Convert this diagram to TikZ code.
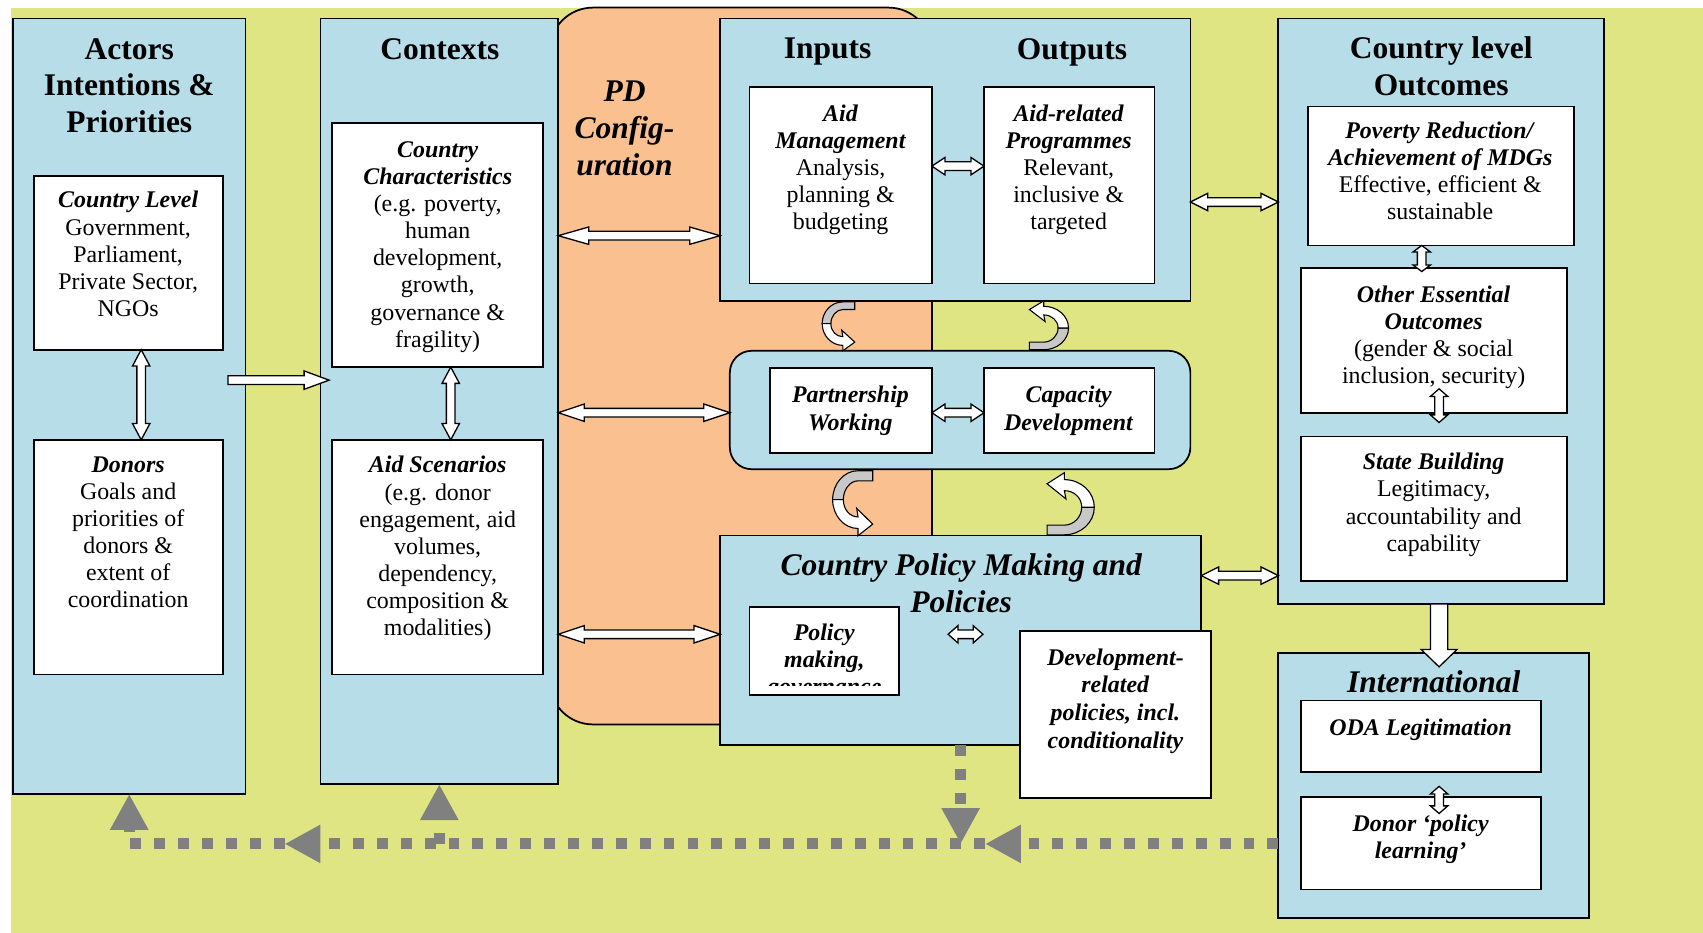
\documentclass[tikz,border=0pt]{standalone}
\usepackage{fontspec}
\setmainfont{Liberation Serif}
\usetikzlibrary{calc,arrows.meta}
\definecolor{bggreen}{RGB}{223,229,131}
\definecolor{lblue}{RGB}{183,221,232}
\definecolor{orng}{RGB}{250,192,144}
\definecolor{dgrey}{RGB}{128,128,128}
\definecolor{curlgrey}{RGB}{200,200,200}
\newcommand\BI[1]{\textbf{\textit{#1}}}
% horizontal double block arrow: [head length]{left point}{right point}
\newcommand\HDA[3][14]{\draw[blockarr] let \p1=(#2), \p2=(#3) in
  (\x1,\y1) -- (\x1+#1pt,\y1+8pt) -- (\x1+#1pt,\y1+4pt) -- (\x2-#1pt,\y1+4pt) -- (\x2-#1pt,\y1+8pt)
  -- (\x2,\y1) -- (\x2-#1pt,\y1-8pt) -- (\x2-#1pt,\y1-4pt) -- (\x1+#1pt,\y1-4pt) -- (\x1+#1pt,\y1-8pt) -- cycle;}
% vertical double block arrow: [head length]{upper point}{lower point}
\newcommand\VDA[3][14]{\draw[blockarr] let \p1=(#2), \p2=(#3) in
  (\x1,\y1) -- (\x1+8pt,\y1-#1pt) -- (\x1+4pt,\y1-#1pt) -- (\x1+4pt,\y2+#1pt) -- (\x1+8pt,\y2+#1pt)
  -- (\x1,\y2) -- (\x1-8pt,\y2+#1pt) -- (\x1-4pt,\y2+#1pt) -- (\x1-4pt,\y1-#1pt) -- (\x1-8pt,\y1-#1pt) -- cycle;}
% single right block arrow
\newcommand\RA[2]{\draw[blockarr] let \p1=(#1), \p2=(#2) in
  (\x1,\y1+4pt) -- (\x2-23pt,\y1+4pt) -- (\x2-23pt,\y1+8.5pt) -- (\x2,\y1) -- (\x2-23pt,\y1-8.5pt) -- (\x2-23pt,\y1-4pt) -- (\x1,\y1-4pt) -- cycle;}
% single down block arrow
\newcommand\DA[2]{\draw[blockarr] let \p1=(#1), \p2=(#2) in
  (\x1-8pt,\y1) -- (\x1-8pt,\y2+16pt) -- (\x1-16.5pt,\y2+16pt) -- (\x1,\y2) -- (\x1+16.5pt,\y2+16pt) -- (\x1+8pt,\y2+16pt) -- (\x1+8pt,\y1) -- cycle;}
\begin{document}
\begin{tikzpicture}[x=1pt,y=-1pt,
  panel/.style={draw=black,line width=1.6pt,fill=lblue,inner sep=0pt,outer sep=0pt},
  wbox/.style={draw=black,line width=1.6pt,fill=white,inner sep=0pt,outer sep=0pt},
  txt/.style={align=center,inner sep=0pt,anchor=north,font=\fontsize{22}{25}\selectfont},
  ttl/.style={align=center,inner sep=0pt,anchor=north,font=\fontsize{29}{34}\selectfont\bfseries},
  blockarr/.style={draw=black,fill=white,line width=1.2pt,line join=miter},
  dotline/.style={draw=dgrey,line width=10pt,dash pattern=on 10pt off 12pt},
  gtip/.style={-{Triangle[length=33pt,width=33pt]}},
  curl/.pic={
    \filldraw[fill=curlgrey,draw=black,line width=1pt] (11,-20) -- (0,-20) .. controls (-10.5,-20) and (-19,-11) .. (-19,0)
      -- (-11,0) .. controls (-11,-7) and (-6,-13) .. (0,-13) -- (11,-13) -- cycle;
    \filldraw[fill=white,draw=black,line width=1pt] (-19,0) .. controls (-19,11) and (-10.5,20) .. (0,20)
      -- (0,25) -- (11,17) -- (-1,6) -- (0,12) .. controls (-6,12) and (-11,7) .. (-11,0) -- cycle;
  }
]
\useasboundingbox (0,0) rectangle (1568,859);
\fill[bggreen] (10,7) rectangle (1568,859);
% PD configuration band
\draw[fill=orng,line width=1.6pt,rounded corners=40] (506,7) rectangle (858,667);

% panels
\node[panel,minimum width=214,minimum height=714] (actors) at (119,374) {};
\node[panel,minimum width=219,minimum height=705] (contexts) at (404.5,369.5) {};
\node[panel,minimum width=433,minimum height=260] (io) at (879.5,147) {};
\node[panel,rounded corners=20,minimum width=424,minimum height=109] (pc) at (884,377.5) {};
\node[panel,minimum width=443,minimum height=193] (cpol) at (884.5,589.5) {};
\node[panel,minimum width=300,minimum height=539] (clo) at (1327,286.5) {};
\node[panel,minimum width=286,minimum height=244] (intl) at (1320,723) {};

% white boxes
\node[wbox,minimum width=174,minimum height=160] (ctry) at (118,242) {};
\node[wbox,minimum width=174,minimum height=216] (donors) at (118,513) {};
\node[wbox,minimum width=194,minimum height=225] (cchar) at (403,225.5) {};
\node[wbox,minimum width=194,minimum height=216] (aidsc) at (403,513) {};
\node[wbox,minimum width=168,minimum height=181] (aidm) at (774,170.5) {};
\node[wbox,minimum width=157,minimum height=181] (aidr) at (984.5,170.5) {};
\node[wbox,minimum width=149,minimum height=78] (pw) at (783.5,378) {};
\node[wbox,minimum width=157,minimum height=78] (cd) at (984.5,378) {};
\node[wbox,minimum width=138,minimum height=81] (pmk) at (759,599.5) {};
\node[wbox,minimum width=176,minimum height=154] (drp) at (1027,658) {};
\node[wbox,minimum width=245,minimum height=128] (pov) at (1326.5,162) {};
\node[wbox,minimum width=245,minimum height=133] (oeo) at (1320.5,313.5) {};
\node[wbox,minimum width=245,minimum height=133] (sb) at (1320.5,468.5) {};
\node[wbox,minimum width=221,minimum height=66] (oda) at (1308.5,678) {};
\node[wbox,minimum width=221,minimum height=85] (dpl) at (1308.5,776.5) {};

% titles
\node[ttl] (t-actors) at (119,35) {Actors\\Intentions \&\\Priorities};
\node[ttl] (t-contexts) at (405,35) {Contexts};
\node[ttl,font=\fontsize{29}{34}\selectfont\bfseries\itshape] (t-pd) at (575,74) {PD\\Config-\\uration};
\node[ttl] (t-inputs) at (762,35) {Inputs};
\node[ttl] (t-outputs) at (987,35) {Outputs};
\node[ttl,font=\fontsize{29}{34}\selectfont\bfseries\itshape] (t-cpol) at (885,510) {Country Policy Making and\\Policies};
\node[ttl] (t-clo) at (1327,34) {Country level\\Outcomes};
\node[ttl,font=\fontsize{29}{34}\selectfont\bfseries\itshape] (t-intl) at (1320,617) {International};

% box texts
\node[txt] (t-ctry) at (118,176) {\BI{Country Level}\\Government,\\Parliament,\\Private Sector,\\NGOs};
\node[txt] (t-donors) at (118,420) {\BI{Donors}\\Goals and\\priorities of\\donors \&\\extent of\\coordination};
\node[txt] (t-cchar) at (403,130) {\BI{Country}\\\BI{Characteristics}\\(e.g. poverty,\\human\\development,\\growth,\\governance \&\\fragility)};
\node[txt] (t-aidsc) at (403,420) {\BI{Aid Scenarios}\\(e.g. donor\\engagement, aid\\volumes,\\dependency,\\composition \&\\modalities)};
\node[txt] (t-aidm) at (774,96) {\BI{Aid}\\\BI{Management}\\Analysis,\\planning \&\\budgeting};
\node[txt] (t-aidr) at (984,96) {\BI{Aid-related}\\\BI{Programmes}\\Relevant,\\inclusive \&\\targeted};
\node[txt,font=\fontsize{22}{26}\selectfont] (t-pw) at (783,355) {\BI{Partnership}\\\BI{Working}};
\node[txt,font=\fontsize{22}{26}\selectfont] (t-cd) at (984,355) {\BI{Capacity}\\\BI{Development}};
\begin{scope}
  \clip (691,560) rectangle (827,631);
  \node[txt] (t-pmk) at (759,574) {\BI{Policy}\\\BI{making,}\\\BI{governance}};
\end{scope}
\node[txt,font=\fontsize{22}{25.5}\selectfont] (t-drp) at (1027,597) {\BI{Development-}\\\BI{related}\\\BI{policies, incl.}\\\BI{conditionality}};
\node[txt] (t-pov) at (1326,112) {\BI{Poverty Reduction/}\\\BI{Achievement of MDGs}\\Effective, efficient \&\\sustainable};
\node[txt] (t-oeo) at (1320,263) {\BI{Other Essential}\\\BI{Outcomes}\\(gender \& social\\inclusion, security)};
\node[txt] (t-sb) at (1320,417) {\BI{State Building}\\Legitimacy,\\accountability and\\capability};
\node[txt] (t-oda) at (1308,662) {\BI{ODA Legitimation}};
\node[txt] (t-dpl) at (1308,750) {\BI{Donor ‘policy}\\\BI{learning’}};

% block arrows
\VDA[15]{130,0 |- ctry.south}{130,0 |- donors.north}
\VDA[15]{415,0 |- cchar.south}{415,0 |- aidsc.north}
\RA{$(actors.east|-0,350)+(-16,0)$}{$(contexts.west|-0,350)+(8,0)$}
\HDA[28]{contexts.east |- 0,217}{io.west |- 0,217}
\HDA[24]{contexts.east |- 0,380}{pc.west |- 0,380}
\HDA[24]{contexts.east |- 0,584}{cpol.west |- 0,584}
\HDA[12]{aidm.east |- 0,153}{aidr.west |- 0,153}
\HDA[12]{pw.east |- 0,380}{cd.west |- 0,380}
\coordinate (pa1) at (873,584);
\coordinate (pa2) at (905,584);
\HDA[9]{pa1}{pa2}
\HDA[16]{io.east |- 0,186}{clo.west |- 0,186}
\HDA[16]{cpol.east |- 0,530}{clo.west |- 0,530}
\VDA[6]{1309,0 |- pov.south}{$(1309,0 |- oeo.north)+(0,3)$}
\coordinate (ob1) at (1325,358);
\coordinate (ob2) at (1325,389);
\VDA[7]{ob1}{ob2}
\coordinate (ib1) at (1325,724);
\coordinate (ib2) at (1325,749);
\VDA[7]{ib1}{ib2}
\DA{1325,0 |- clo.south}{$(1325,0 |- intl.north)+(0,13)$}

% curved arrows
\pic at (776,298) {curl};
\pic[rotate=180,xscale=1.2] at (961,302) {curl};
\pic[xscale=1.23,yscale=1.33] at (790,460) {curl};
\pic[rotate=180,xscale=1.45,yscale=1.27] at (980,467) {curl};

% feedback dotted lines
\coordinate (m1) at (907,777);
\coordinate (m2) at (262,777);
\coordinate (c1) at (119,777);
\coordinate (c2) at (404.5,777);
\draw[dotline,gtip] (intl.west |- m1) -- (m1);
\draw[dotline,gtip] (m1) -- (m2);
\draw[dotline,gtip] (m2) -- (c1) -- (actors.south);
\draw[dotline,gtip] (c2) -- (contexts.south);
\draw[dotline,gtip] (cpol.south) -- (cpol.south |- m1);
\end{tikzpicture}
\end{document}
